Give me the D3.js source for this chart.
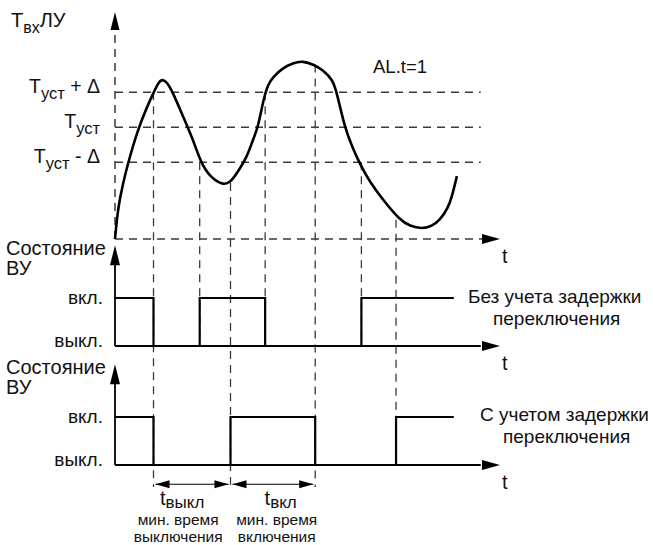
<!DOCTYPE html>
<html>
<head>
<meta charset="utf-8">
<script src="https://cdn.jsdelivr.net/npm/d3@7"></script>
<style>
  body { margin: 0; background: #fff; }
  text { font-family: "Liberation Sans", Arial, sans-serif; fill: #111; }
</style>
</head>
<body>
<div id="chart"></div>
<script>
// --- data ---
// input temperature curve (time units 0..100, temperature in arbitrary units)
var curveTime = [0, 0.8, 2.1, 3.4, 5.9, 8.3, 9.9, 11.2, 12.2, 13.5, 15.1, 17.7, 20.3, 22.3, 24.7, 27.8,
                 29.9, 31.9, 34.3, 35.8, 37.1, 38.4, 39, 39.7, 41, 43.6, 46.2, 48.8, 51.7, 54, 56.6,
                 57.7, 59.7, 61.6, 63.6, 66.2, 69.6, 74, 76.6, 79.7, 82.3, 84.4, 86.5, 87.5, 88.8];
var curveTemp = [0, 0.92, 1.6, 2.18, 3.12, 3.78, 4.16, 4.47, 4.58, 4.5, 4.18, 3.5, 2.84, 2.18, 1.78, 1.55,
                 1.6, 1.92, 2.35, 2.84, 3.18, 3.9, 4.15, 4.41, 4.64, 4.9, 5.04, 5.1, 4.99, 4.84, 4.56,
                 4.15, 3.18, 2.64, 2.15, 1.63, 1.12, 0.54, 0.37, 0.29, 0.37, 0.54, 0.89, 1.2, 1.8];

var tSet = 3.2, delta = 1.0;
var levelValues = [tSet + delta, tSet, tSet - delta];
var levelSuffix = [" + \u0394", "", " - \u0394"];

// output state without switching delay
var noDelayTime  = [0, 10, 22, 39, 64, 88];
var noDelayState = [1, 0, 1, 0, 1, 1];
// output state with minimal on/off times
var delayTime  = [0, 10, 30, 52, 73, 88];
var delayState = [1, 0, 1, 0, 1, 1];

// vertical guides: time, where they start on the curve, which panel they end in
var guideTime  = [10, 22, 30, 39, 52, 64, 73];
var guideTemp  = [4.2, 2.2, 1.6, 4.2, 5.0, 2.2, 0.55];
var guideEnd   = ["below", "panel2", "below", "panel2", "below", "panel2", "high3"];

// min off / on time spans
var spanStart = [10, 30];
var spanEnd   = [30, 52];
var spanSub   = ["\u0432\u044b\u043a\u043b", "\u0432\u043a\u043b"];
var spanLine2 = ["\u0432\u044b\u043a\u043b\u044e\u0447\u0435\u043d\u0438\u044f", "\u0432\u043a\u043b\u044e\u0447\u0435\u043d\u0438\u044f"];
var spanLabelAt = [16.4, 42];

var width = 653, height = 545;

var svg = d3.select("#chart")
  .append("svg")
    .attr("width", width)
    .attr("height", height);

var x = d3.scaleLinear().domain([0, 100]).range([115, 500]);
var yT = d3.scaleLinear().domain([0, 6.5]).range([239, 12]);
var yS1 = d3.scaleLinear().domain([0, 1]).range([346, 298]);
var yS2 = d3.scaleLinear().domain([0, 1]).range([465, 417]);

var dash = "8,6";
var grey = "#3a3a3a";

function arrowHead(px, py, dir, len, hw) {
  len = len || 18; hw = hw || 5;
  var p;
  if (dir == "up")    p = [[px, py], [px - hw, py + len], [px + hw, py + len]];
  if (dir == "right") p = [[px, py], [px - len, py - hw], [px - len, py + hw]];
  if (dir == "left")  p = [[px, py], [px + len, py - hw], [px + len, py + hw]];
  svg.append("path")
    .attr("d", "M" + p.join("L") + "Z")
    .attr("fill", "#000");
}

// ---------- panel 1: input temperature ----------
// dashed level lines
svg.selectAll(".level")
  .data(levelValues)
  .enter().append("line")
    .attr("class", "level")
    .attr("x1", x(0)).attr("x2", x(95))
    .attr("y1", function(d){ return yT(d); })
    .attr("y2", function(d){ return yT(d); })
    .attr("stroke", grey).attr("stroke-width", 1.5)
    .attr("stroke-dasharray", dash);

// vertical guides
svg.selectAll(".guide")
  .data(guideTime)
  .enter().append("line")
    .attr("class", "guide")
    .attr("x1", function(d){ return x(d); })
    .attr("x2", function(d){ return x(d); })
    .attr("y1", function(d, i){ return yT(guideTemp[i]); })
    .attr("y2", function(d, i){
      if (guideEnd[i] == "panel2") return yS1(0);
      if (guideEnd[i] == "high3") return yS2(1);
      return yS2(-0.46);
    })
    .attr("stroke", grey).attr("stroke-width", 1.3)
    .attr("stroke-dasharray", dash);

// dashed axes
svg.append("line")
  .attr("x1", x(0)).attr("x2", x(0))
  .attr("y1", yT(0)).attr("y2", yT(6.05))
  .attr("stroke", grey).attr("stroke-width", 1.5)
  .attr("stroke-dasharray", dash);
arrowHead(x(0), yT(6.5), "up", 18, 4.5);

svg.append("line")
  .attr("x1", x(0)).attr("x2", x(95.5))
  .attr("y1", yT(0)).attr("y2", yT(0))
  .attr("stroke", grey).attr("stroke-width", 1.5)
  .attr("stroke-dasharray", dash);
arrowHead(x(100), yT(0), "right");

// the curve
var pts = curveTime.map(function(t, i){ return [t, curveTemp[i]]; });
svg.append("path")
  .datum(pts)
  .attr("fill", "none")
  .attr("stroke", "#000")
  .attr("stroke-width", 2.6)
  .attr("d", d3.line()
    .x(function(d){ return x(d[0]); })
    .y(function(d){ return yT(d[1]); })
    .curve(d3.curveBasis));

// labels panel 1
var yl = svg.append("text").attr("x", 11).attr("y", 27).style("font-size", "20px");
yl.append("tspan").text("\u0422");
yl.append("tspan").attr("dy", 6).style("font-size", "16px").text("\u0432\u0445");
yl.append("tspan").attr("dy", -6).text("\u041b\u0423");

svg.selectAll(".levlab")
  .data(levelValues)
  .enter().append("text")
    .attr("class", "levlab")
    .attr("x", 100)
    .attr("y", function(d){ return yT(d) + 1; })
    .attr("text-anchor", "end")
    .style("font-size", "19.5px")
    .each(function(d, i){
      var t = d3.select(this);
      t.append("tspan").text("\u0422");
      t.append("tspan").attr("dy", 6).style("font-size", "16.5px").text("\u0443\u0441\u0442");
      t.append("tspan").attr("dy", -6).text(levelSuffix[i]);
    });

svg.append("text")
  .attr("x", 373).attr("y", yT(4.75))
  .style("font-size", "18.5px")
  .text("AL.t=1");

svg.append("text")
  .attr("x", 502).attr("y", 263)
  .style("font-size", "20px")
  .text("t");

// ---------- panels 2 and 3: output state ----------
function statePanel(yS, times, states, title, note) {
  svg.append("line")
    .attr("x1", x(0)).attr("x2", x(95))
    .attr("y1", yS(0)).attr("y2", yS(0))
    .attr("stroke", "#000").attr("stroke-width", 1.8);
  arrowHead(x(100), yS(0), "right");
  svg.append("line")
    .attr("x1", x(0)).attr("x2", x(0))
    .attr("y1", yS(0)).attr("y2", yS(1.8))
    .attr("stroke", "#000").attr("stroke-width", 1.8);
  arrowHead(x(0), yS(2.1), "up", 20, 5);

  var sp = times.map(function(t, i){ return [t, states[i]]; });
  svg.append("path")
    .datum(sp)
    .attr("fill", "none")
    .attr("stroke", "#000")
    .attr("stroke-width", 2.2)
    .attr("d", d3.line()
      .x(function(d){ return x(d[0]); })
      .y(function(d){ return yS(d[1]); })
      .curve(d3.curveStepAfter));

  svg.append("text").attr("x", 6).attr("y", yS(2.1) + 10)
    .style("font-size", "20px").text(title[0]);
  svg.append("text").attr("x", 6).attr("y", yS(2.1) + 30)
    .style("font-size", "20px").text(title[1]);

  svg.append("text").attr("x", 103).attr("y", yS(1) + 6)
    .attr("text-anchor", "end").style("font-size", "19px").text("\u0432\u043a\u043b.");
  svg.append("text").attr("x", 103).attr("y", yS(0) + 1)
    .attr("text-anchor", "end").style("font-size", "19px").text("\u0432\u044b\u043a\u043b.");

  svg.append("text").attr("x", note.x).attr("y", yS(1) + note.dy)
    .style("font-size", "19px").text(note.l1);
  svg.append("text").attr("x", note.x2).attr("y", yS(1) + note.dy + 22)
    .style("font-size", "19px").text(note.l2);

  svg.append("text").attr("x", 502).attr("y", yS(0) + 24)
    .style("font-size", "20px").text("t");
}

var title = ["\u0421\u043e\u0441\u0442\u043e\u044f\u043d\u0438\u0435", "\u0412\u0423"];
statePanel(yS1, noDelayTime, noDelayState, title,
  {x: 468, x2: 493, dy: 5, l1: "\u0411\u0435\u0437 \u0443\u0447\u0435\u0442\u0430 \u0437\u0430\u0434\u0435\u0440\u0436\u043a\u0438",
   l2: "\u043f\u0435\u0440\u0435\u043a\u043b\u044e\u0447\u0435\u043d\u0438\u044f"});
statePanel(yS2, delayTime, delayState, title,
  {x: 480, x2: 503, dy: 4, l1: "\u0421 \u0443\u0447\u0435\u0442\u043e\u043c \u0437\u0430\u0434\u0435\u0440\u0436\u043a\u0438",
   l2: "\u043f\u0435\u0440\u0435\u043a\u043b\u044e\u0447\u0435\u043d\u0438\u044f"});

// ---------- min off / on time spans ----------
var spanY = yS2(-0.4);
spanStart.forEach(function(s, i){
  var e = spanEnd[i];
  svg.append("line")
    .attr("x1", x(s) + 2).attr("x2", x(e) - 2)
    .attr("y1", spanY).attr("y2", spanY)
    .attr("stroke", "#000").attr("stroke-width", 1.1);
  arrowHead(x(s) + 2, spanY, "left", 14, 4);
  arrowHead(x(e) - 2, spanY, "right", 14, 4);

  var cx = x(spanLabelAt[i]) + 4;
  var lab = svg.append("text").attr("x", cx).attr("y", 505)
    .attr("text-anchor", "middle").style("font-size", "20px");
  lab.append("tspan").text("t");
  lab.append("tspan").attr("dy", 3).style("font-size", "17px").text(spanSub[i]);

  svg.append("text").attr("x", cx - 4).attr("y", 525)
    .attr("text-anchor", "middle").style("font-size", "15.5px")
    .text("\u043c\u0438\u043d. \u0432\u0440\u0435\u043c\u044f");
  svg.append("text").attr("x", cx - 4).attr("y", 542)
    .attr("text-anchor", "middle").style("font-size", "15.5px")
    .text(spanLine2[i]);
});
</script>
</body>
</html>
